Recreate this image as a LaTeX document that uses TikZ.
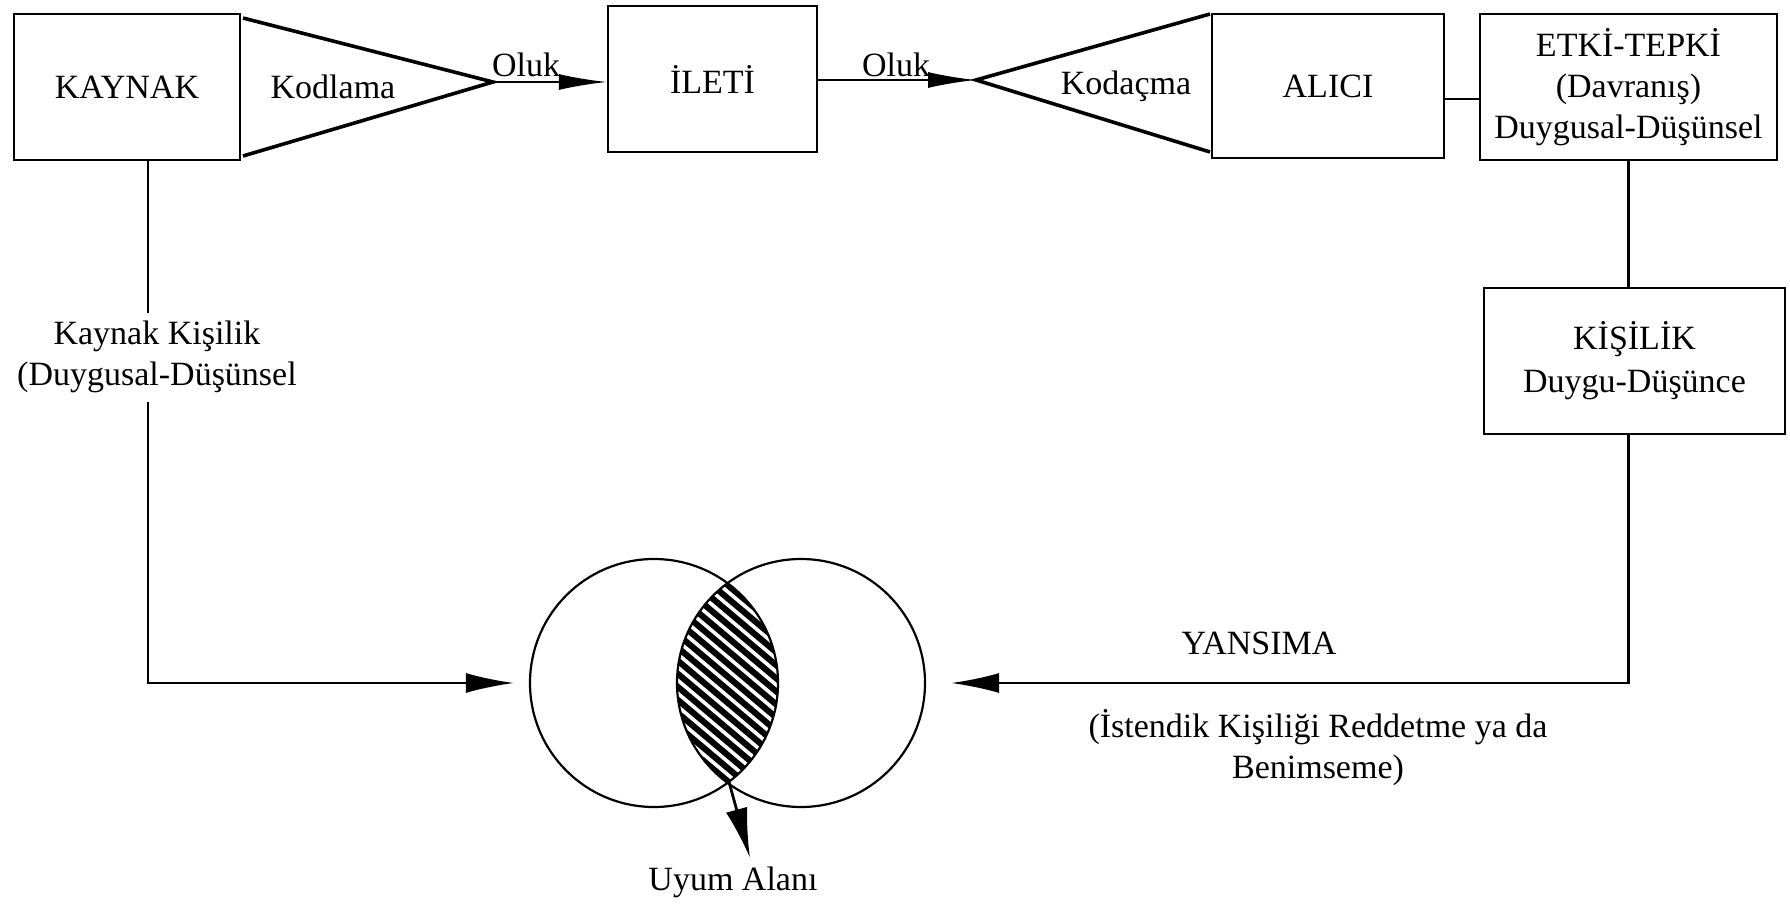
\documentclass[tikz,border=0pt]{standalone}
\usepackage{fontspec}
\setmainfont{Liberation Serif}
\usetikzlibrary{arrows.meta,calc}
\begin{document}
\begin{tikzpicture}[x=0.5pt,y=-0.5pt,
  every node/.style={font=\fontsize{17}{20.5}\selectfont},
  box/.style={draw, line width=1.1pt, inner sep=0pt, align=center},
  lbl/.style={inner sep=0pt, align=center},
  wedge/.style={line width=1.8pt, line join=miter},
  conn/.style={line width=1.1pt},
  tip/.style={-{Latex[length=24pt,width=8pt]}},
  bigtip/.style={-{Latex[length=24pt,width=10pt]}},
  ring/.style={circle, draw, line width=1.1pt, minimum size=124pt, inner sep=0pt}]

\useasboundingbox (0,0) rectangle (1790,904);

% boxes of the communication chain
\node[box, minimum width=113pt, minimum height=73pt] (kaynak) at (127,87) {KAYNAK};
\node[box, minimum width=104.5pt, minimum height=73pt] (ileti) at (712.5,79) {İLETİ};
\node[box, minimum width=116pt, minimum height=72pt] (alici) at (1328,86) {ALICI};
\node[box, minimum width=148.5pt, minimum height=73pt] (etki) at (1628.5,87)
  {ETKİ-TEPKİ\\(Davranış)\\Duygusal-Düşünsel};
\node[box, minimum width=150.5pt, minimum height=73pt,
  font=\fontsize{17}{21.5}\selectfont] (kisilik) at (1634.5,361) {KİŞİLİK\\Duygu-Düşünce};

% encoding / decoding wedges
\coordinate (enc) at (493,82);
\coordinate (dec) at (976,80);
\draw[wedge] (243,18) -- (enc) -- (243,156);
\draw[wedge] (1210,14) -- (dec) -- (1210,152);
\node[lbl] (kod) at (333,87) {Kodlama};
\node[lbl] (kodac) at (1126,86) {Kodaçma};

% channels
\node[lbl] (oluk1) at (526,65) {Oluk};
\node[lbl] (oluk2) at (896,65) {Oluk};
\draw[conn, tip] (enc) -- (enc -| ileti.west);
\draw[conn, tip] (dec -| ileti.east) -- (dec);

\coordinate (ae) at ([yshift=-6.5pt]alici.east);
\draw[conn] (ae) -- (ae -| etki.west);
\draw[conn] (etki.south) -- (etki.south |- kisilik.north);

% overlap of the two personalities
\begin{scope}
  \clip (654,683) circle[radius=62pt];
  \fill[black] (801,683) circle[radius=62pt];
  \foreach \s in {-170,-154.5,...,170}
    \draw[white, line width=1.8pt] ({574+\s},554) -- ({880+\s},812);
\end{scope}
\node[ring] (lc) at (654,683) {};
\node[ring] (rc) at (801,683) {};

% source personality branch
\coordinate (kl) at (148,160);
\node[lbl] (kk) at (157,357) {Kaynak Kişilik\\(Duygusal-Düşünsel};
\draw[conn, shorten >=4pt] (kl) -- (kl |- kk.north);
\draw[conn, bigtip, shorten <=4.5pt, shorten >=7.5pt] (kl |- kk.south) -- (kl |- lc.center) -- (lc.west);

% reflection branch
\draw[conn, bigtip, shorten >=12.5pt] (kisilik.south -| etki.south) -- (etki.south |- rc.center) -- (rc.east);
\node[lbl] (yan) at (1259,643) {YANSIMA};
\node[lbl] (ist) at (1318,748) {(İstendik Kişiliği Reddetme ya da\\Benimseme)};

% harmony area
\node[lbl] (uyum) at (733,882) {Uyum Alanı};
\coordinate (lensbot) at (729,782);
\coordinate (uyumtip) at (750,858);
\draw[conn, line width=1.4pt, -{Latex[length=25pt,width=11pt]}] (lensbot) -- (uyumtip);

\end{tikzpicture}
\end{document}
